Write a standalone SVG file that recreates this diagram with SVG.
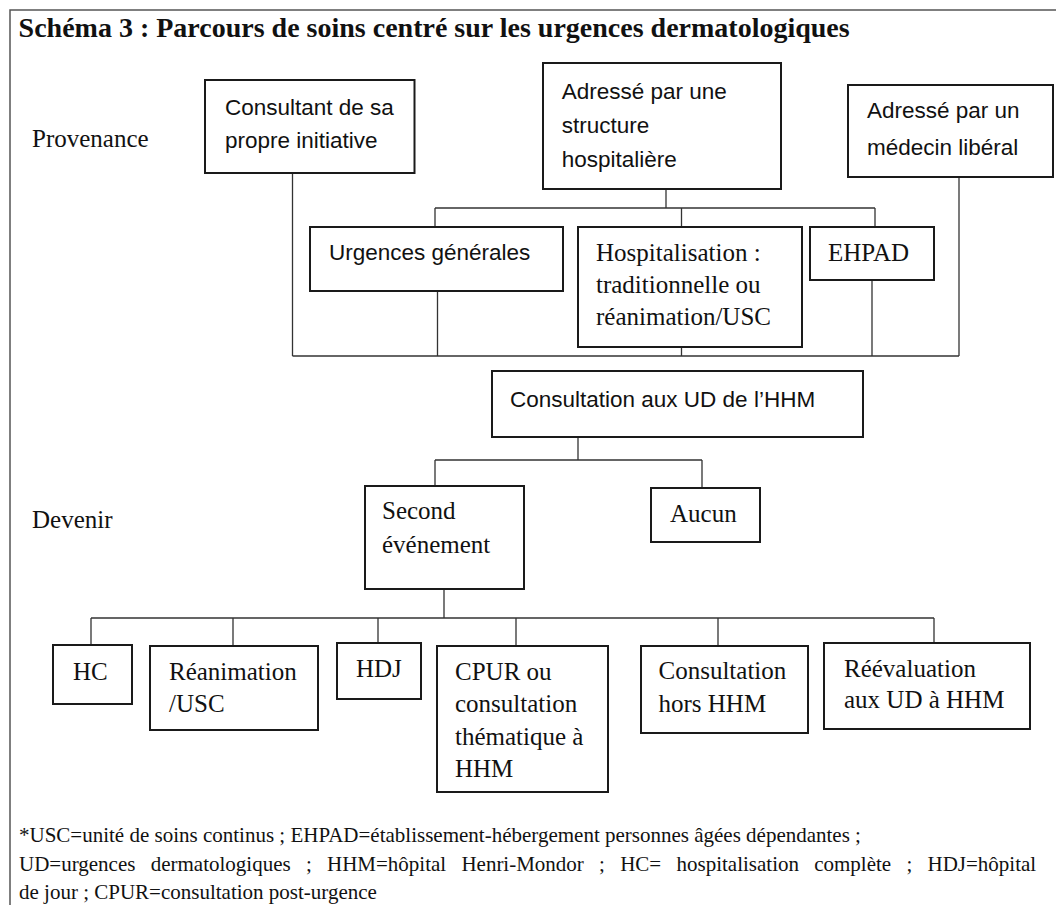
<svg xmlns="http://www.w3.org/2000/svg" width="1056" height="905" viewBox="0 0 1056 905">
<style>
.box{fill:#fff;stroke:#1a1a1a;stroke-width:2}
.ln{stroke:#333;stroke-width:1.3;fill:none}
.frame{stroke:#555;stroke-width:1.5;fill:none}
.serif{font-family:"Liberation Serif","Times New Roman",serif;font-size:25px;fill:#111}
.title{font-family:"Liberation Serif","Times New Roman",serif;font-size:28px;font-weight:bold;fill:#111}
.note{font-family:"Liberation Serif","Times New Roman",serif;font-size:21px;fill:#111}
.sans{font-family:"Liberation Sans",Arial,sans-serif;font-size:22.5px;fill:#111}
</style>
<rect x="0" y="0" width="1056" height="905" fill="#fff"/>
<path class="frame" d="M10 905 V10 H1056"/>
<text class="title" x="18.6" y="37">Schéma 3 : Parcours de soins centré sur les urgences dermatologiques</text>
<text class="serif" x="32" y="147">Provenance</text>
<text class="serif" x="32" y="528">Devenir</text>

<g id="connectors">
<path class="ln" d="M292.5 173 V356"/>
<path class="ln" d="M959 177 V356"/>
<path class="ln" d="M666 189 V208"/>
<path class="ln" d="M435 208 H875"/>
<path class="ln" d="M435 208 V227 M681.5 208 V227 M875 208 V227"/>
<path class="ln" d="M437.5 291 V356 M681.5 347 V356 M872 280 V356"/>
<path class="ln" d="M292.5 356 H959"/>
<path class="ln" d="M578 437 V460 M435 460 H702 M435 460 V486 M702 460 V488"/>
<path class="ln" d="M444 589 V618 M91 618 H934"/>
<path class="ln" d="M91 618 V645 M233 618 V646 M378 618 V643 M516 618 V646 M718 618 V646 M934 618 V643"/>
</g>

<g id="consultant">
<rect class="box" x="205" y="80" width="209.5" height="93"/>
<text class="sans" x="225" y="115">Consultant de sa</text>
<text class="sans" x="225" y="148">propre initiative</text>
</g>
<g id="adresse-structure">
<rect class="box" x="543" y="63" width="238" height="126"/>
<text class="sans" x="561.7" y="99">Adressé par une</text>
<text class="sans" x="561.7" y="133">structure</text>
<text class="sans" x="561.7" y="167">hospitalière</text>
</g>
<g id="adresse-medecin">
<rect class="box" x="848" y="85" width="205" height="92"/>
<text class="sans" x="867" y="118">Adressé par un</text>
<text class="sans" x="867" y="155">médecin libéral</text>
</g>
<g id="urgences">
<rect class="box" x="310" y="227" width="253" height="64"/>
<text class="sans" x="329" y="260">Urgences générales</text>
</g>
<g id="hospitalisation">
<rect class="box" x="578" y="227" width="224" height="120"/>
<text class="serif"><tspan x="596" y="261">Hospitalisation :</tspan><tspan x="596" y="293">traditionnelle ou</tspan><tspan x="596" y="325">réanimation/USC</tspan></text>
</g>
<g id="ehpad">
<rect class="box" x="810" y="227" width="124" height="53"/>
<text class="serif" x="828" y="261">EHPAD</text>
</g>
<g id="consultation-ud">
<rect class="box" x="492" y="371" width="371" height="66"/>
<text class="sans" x="510" y="407">Consultation aux UD de l’HHM</text>
</g>
<g id="second">
<rect class="box" x="365" y="486" width="159" height="103"/>
<text class="serif"><tspan x="382" y="519">Second</tspan><tspan x="382" y="553">événement</tspan></text>
</g>
<g id="aucun">
<rect class="box" x="651" y="488" width="109" height="54"/>
<text class="serif" x="670" y="522">Aucun</text>
</g>
<g id="hc">
<rect class="box" x="53" y="645" width="79" height="59"/>
<text class="serif" x="73" y="680">HC</text>
</g>
<g id="reanimation">
<rect class="box" x="150" y="646" width="168" height="84"/>
<text class="serif"><tspan x="169" y="680">Réanimation</tspan><tspan x="169" y="712">/USC</tspan></text>
</g>
<g id="hdj">
<rect class="box" x="337" y="643" width="84" height="56"/>
<text class="serif" x="356" y="677">HDJ</text>
</g>
<g id="cpur">
<rect class="box" x="437" y="646" width="171" height="146"/>
<text class="serif"><tspan x="455" y="680">CPUR ou</tspan><tspan x="455" y="712">consultation</tspan><tspan x="455" y="745">thématique à</tspan><tspan x="455" y="777">HHM</tspan></text>
</g>
<g id="consultation-hors">
<rect class="box" x="641" y="646" width="167" height="87"/>
<text class="serif"><tspan x="658.5" y="679">Consultation</tspan><tspan x="658.5" y="712">hors HHM</tspan></text>
</g>
<g id="reevaluation">
<rect class="box" x="824" y="643" width="206" height="86"/>
<text class="serif"><tspan x="844" y="677">Réévaluation</tspan><tspan x="844" y="708">aux UD à HHM</tspan></text>
</g>
<text class="note" x="19" y="842">*USC=unité de soins continus ; EHPAD=établissement-hébergement personnes âgées dépendantes ;</text>
<text class="note" x="19" y="871" word-spacing="10">UD=urgences dermatologiques ; HHM=hôpital Henri-Mondor ; HC= hospitalisation complète ; HDJ=hôpital</text>
<text class="note" x="19" y="899">de jour ; CPUR=consultation post-urgence</text>
</svg>
